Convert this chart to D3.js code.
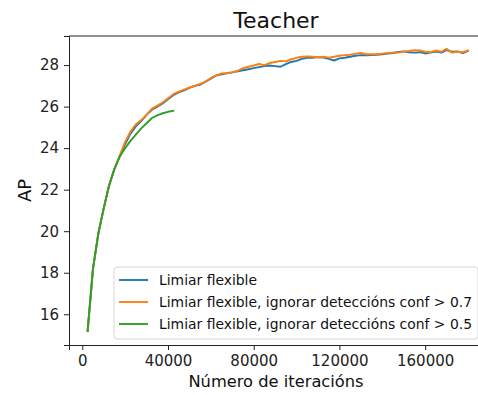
<!DOCTYPE html>
<html>
<head>
<meta charset="utf-8">
<script src="https://cdn.jsdelivr.net/npm/d3@7"></script>
<style>
  body { margin: 0; background: #fff; }
  svg { display: block; font-family: 'DejaVu Sans', sans-serif; }
</style>
</head>
<body>
<svg id="chart" width="478" height="395"></svg>
<script>
const iterations = [
    2500, 5000, 7500, 10000, 12500, 15000, 17500, 20000, 22500, 25000,
    27500, 30000, 32500, 35000, 37500, 40000, 42500, 45000, 47500, 50000,
    52500, 55000, 57500, 60000, 62500, 65000, 67500, 70000, 72500, 75000,
    77500, 80000, 82500, 85000, 87500, 90000, 92500, 95000, 97500, 100000,
    102500, 105000, 107500, 110000, 112500, 115000, 117500, 120000, 122500, 125000,
    127500, 130000, 132500, 135000, 137500, 140000, 142500, 145000, 147500, 150000,
    152500, 155000, 157500, 160000, 162500, 165000, 167500, 170000, 172500, 175000,
    177500, 180000
]
const apFlexible = [
    15.2, 18.2, 19.9, 21.1, 22.2, 23.0, 23.6, 24.2, 24.7, 25.05,
    25.3, 25.6, 25.85, 26.0, 26.15, 26.35, 26.55, 26.68, 26.78, 26.9,
    27.0, 27.05, 27.2, 27.35, 27.5, 27.55, 27.6, 27.65, 27.7, 27.75,
    27.8, 27.85, 27.9, 27.95, 27.98, 27.95, 27.92, 28.05, 28.15, 28.2,
    28.3, 28.35, 28.35, 28.38, 28.36, 28.3, 28.22, 28.32, 28.35, 28.4,
    28.45, 28.48, 28.47, 28.48, 28.5, 28.52, 28.55, 28.58, 28.63, 28.66,
    28.62, 28.6, 28.62, 28.56, 28.6, 28.65, 28.6, 28.72, 28.64, 28.66,
    28.58, 28.68
]
const apIgnore07 = [
    15.2, 18.2, 19.9, 21.1, 22.2, 23.0, 23.65, 24.3, 24.8, 25.15,
    25.35, 25.6, 25.9, 26.05, 26.2, 26.4, 26.6, 26.72, 26.82, 26.92,
    27.0, 27.1, 27.2, 27.38, 27.5, 27.6, 27.62, 27.65, 27.72, 27.85,
    27.92, 27.98, 28.05, 28.0, 28.1, 28.15, 28.2, 28.18, 28.28, 28.35,
    28.4, 28.42, 28.4, 28.38, 28.4, 28.36, 28.4, 28.45, 28.48, 28.5,
    28.55, 28.58, 28.52, 28.52, 28.52, 28.55, 28.58, 28.6, 28.6, 28.65,
    28.68, 28.72, 28.7, 28.64, 28.62, 28.7, 28.64, 28.78, 28.6, 28.64,
    28.62, 28.7
]
const apIgnore05 = [
    15.2, 18.2, 19.9, 21.1, 22.2, 23.0, 23.6, 24.0, 24.35, 24.65,
    24.95, 25.2, 25.45, 25.58, 25.68, 25.75, 25.8
]

const seriesNames = [
    'Limiar flexible',
    'Limiar flexible, ignorar deteccións conf > 0.7',
    'Limiar flexible, ignorar deteccións conf > 0.5'
]
const seriesColors = ['#1f77b4', '#ff7f0e', '#2ca02c']
const xTicks = [0, 40000, 80000, 120000, 160000]
const yTicks = [16, 18, 20, 22, 24, 26, 28]

const series = [apFlexible, apIgnore07, apIgnore05].map((vals, i) => ({
    name: seriesNames[i],
    color: seriesColors[i],
    points: vals.map((v, j) => ({ it: iterations[j], ap: v }))
}))

// the right edge of the axes falls just outside the picture
const box = { left: 69, top: 36, right: 483, bottom: 345 }
const svg = d3.select('#chart')

const x = d3.scaleLinear().domain([-6200, 187000]).range([box.left, box.right])
const y = d3.scaleLinear().domain([14.52, 29.4]).range([box.bottom, box.top])

const line = d3.line()
    .x(d => x(d.it))
    .y(d => y(d.ap))

svg.append('defs').append('clipPath')
    .attr('id', 'clip')
    .append('rect')
    .attr('x', box.left).attr('y', box.top)
    .attr('width', box.right - box.left).attr('height', box.bottom - box.top)

svg.append('g')
    .attr('clip-path', 'url(#clip)')
    .selectAll('path')
    .data(series)
    .enter()
    .append('path')
    .attr('fill', 'none')
    .attr('stroke', d => d.color)
    .attr('stroke-width', 1.9)
    .attr('stroke-linejoin', 'round')
    .attr('stroke-linecap', 'square')
    .attr('d', d => line(d.points))

// axes
const xAxis = svg.append('g')
    .attr('transform', `translate(0,${box.bottom})`)
    .call(d3.axisBottom(x).tickValues(xTicks).tickFormat(d3.format('d')).tickSizeOuter(0).tickSize(5).tickPadding(5))
const yAxis = svg.append('g')
    .attr('transform', `translate(${box.left},0)`)
    .call(d3.axisLeft(y).tickValues(yTicks).tickSizeOuter(0).tickSize(5).tickPadding(5))

;[xAxis, yAxis].forEach(a => {
    a.selectAll('text').attr('font-size', 15).attr('fill', '#222').attr('font-family', 'DejaVu Sans')
    a.selectAll('line').attr('stroke', '#222')
    a.select('.domain').attr('stroke', '#222')
})

// top spine
svg.append('line')
    .attr('x1', box.left).attr('x2', box.right)
    .attr('y1', box.top).attr('y2', box.top)
    .attr('stroke', '#222')

// title and labels
svg.append('text')
    .attr('x', (box.left + box.right) / 2).attr('y', 28)
    .attr('text-anchor', 'middle')
    .attr('font-size', 22)
    .attr('fill', '#111')
    .text('Teacher')

svg.append('text')
    .attr('x', (box.left + box.right) / 2).attr('y', 387)
    .attr('text-anchor', 'middle')
    .attr('font-size', 16.3)
    .attr('fill', '#111')
    .text('Número de iteracións')

svg.append('text')
    .attr('transform', `translate(31,${(box.top + box.bottom) / 2}) rotate(-90)`)
    .attr('text-anchor', 'middle')
    .attr('font-size', 18)
    .attr('fill', '#111')
    .text('AP')

// legend
const legend = svg.append('g').attr('transform', 'translate(114,267)')
legend.append('rect')
    .attr('width', 364).attr('height', 72)
    .attr('rx', 3)
    .attr('fill', 'rgba(255,255,255,0.8)')
    .attr('stroke', '#d6d6d6')

const rows = legend.selectAll('g.row')
    .data(series)
    .enter()
    .append('g')
    .attr('class', 'row')
    .attr('transform', (d, i) => `translate(0,${13 + i * 22})`)
rows.append('line')
    .attr('x1', 5).attr('x2', 34)
    .attr('stroke', d => d.color)
    .attr('stroke-width', 1.9)
rows.append('text')
    .attr('x', 45).attr('dy', '0.36em')
    .attr('font-size', 13.9)
    .attr('fill', '#111')
    .text(d => d.name)
</script>
</body>
</html>
